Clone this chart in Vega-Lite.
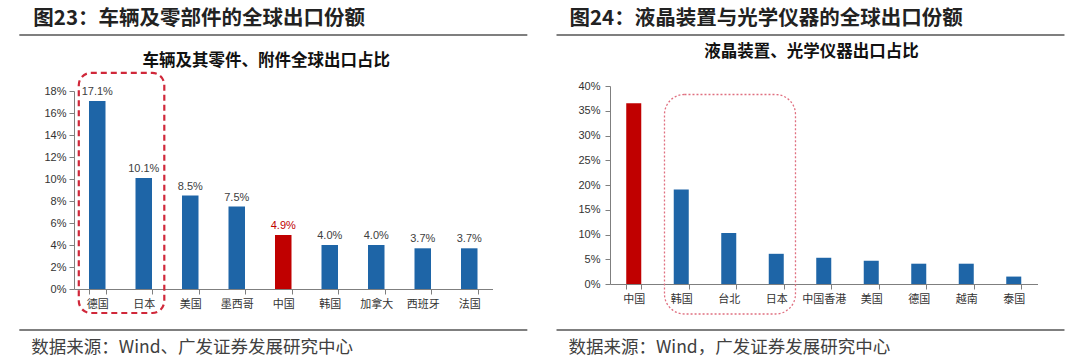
{
  "$schema": "https://vega.github.io/schema/vega-lite/v6.json",
  "background": "white",
  "padding": {"left": 18, "top": 8, "right": 0, "bottom": 0},
  "spacing": 26,
  "config": {
    "view": {"stroke": null},
    "axis": {
      "domainColor": "#7f7f7f",
      "tickColor": "#7f7f7f",
      "labelColor": "#333333",
      "labelFontSize": 11,
      "tickSize": 5,
      "grid": false,
      "title": null
    },
    "text": {"font": "Noto Sans CJK SC"}
  },
  "hconcat": [
    {
      "width": 418.5,
      "height": 203,
      "resolve": {"scale": {"x": "independent"}, "axis": {"y": "independent"}},
      "layer": [
        {
          "data": {"values": [
            {"country": "德国", "share": 0.171},
            {"country": "日本", "share": 0.101},
            {"country": "美国", "share": 0.085},
            {"country": "墨西哥", "share": 0.075},
            {"country": "中国", "share": 0.049},
            {"country": "韩国", "share": 0.040},
            {"country": "加拿大", "share": 0.040},
            {"country": "西班牙", "share": 0.037},
            {"country": "法国", "share": 0.037}
          ]},
          "encoding": {
            "x": {"field": "country", "type": "nominal", "sort": null,
              "scale": {"paddingInner": 0.645, "paddingOuter": 0.3225},
              "axis": {"labelAngle": 0, "tickBand": "extent", "labelFont": "Noto Sans CJK SC", "labelPadding": 4, "labelFontSize": 11}},
            "y": {"field": "share", "type": "quantitative",
              "scale": {"domain": [0, 0.18], "range": [203, 5], "nice": false},
              "axis": {"values": [0, 0.02, 0.04, 0.06, 0.08, 0.10, 0.12, 0.14, 0.16, 0.18], "format": ".0%", "labelFont": "Liberation Sans", "labelPadding": 3}}
          },
          "layer": [
            {"mark": {"type": "bar"},
             "encoding": {"color": {"condition": {"test": "datum.country === '中国'", "value": "#C00000"}, "value": "#1E65A7"}}},
            {"mark": {"type": "text", "baseline": "bottom", "dy": -4, "font": "Liberation Sans", "fontSize": 11},
             "encoding": {
               "text": {"field": "share", "type": "quantitative", "format": ".1%"},
               "color": {"condition": {"test": "datum.country === '中国'", "value": "#C00000"}, "value": "#404040"}
             }}
          ]
        },
        {
          "data": {"values": [{}]},
          "layer": [
            {"mark": {"type": "text", "align": "left", "baseline": "middle", "fontSize": 20.5, "fontWeight": "bold", "color": "#222222", "text": "图23：车辆及零部件的全球出口份额"},
             "encoding": {
               "x": {"datum": -0.875, "type": "quantitative", "scale": {"domain": [0, 9], "nice": false, "zero": false}, "axis": null},
               "y": {"datum": 0.2455, "type": "quantitative", "scale": {"domain": [0, 0.18], "range": [203, 5], "nice": false}, "axis": null}}},
            {"mark": {"type": "rule", "color": "#7f7f7f", "strokeWidth": 2},
             "encoding": {
               "x": {"datum": -1.176, "type": "quantitative", "scale": {"domain": [0, 9], "nice": false, "zero": false}, "axis": null},
               "x2": {"datum": 9.749},
               "y": {"datum": 0.2309, "type": "quantitative", "scale": {"domain": [0, 0.18], "range": [203, 5], "nice": false}, "axis": null}}},
            {"mark": {"type": "text", "align": "center", "baseline": "middle", "fontSize": 16.5, "fontWeight": "bold", "color": "#111111", "text": "车辆及其零件、附件全球出口占比"},
             "encoding": {
               "x": {"datum": 4.135, "type": "quantitative", "scale": {"domain": [0, 9], "nice": false, "zero": false}, "axis": null},
               "y": {"datum": 0.2073, "type": "quantitative", "scale": {"domain": [0, 0.18], "range": [203, 5], "nice": false}, "axis": null}}},
            {"mark": {"type": "rect", "filled": false, "color": "#D0283A", "strokeWidth": 2.2, "strokeDash": [6, 4], "cornerRadius": 12},
             "encoding": {
               "x": {"datum": 0.103, "type": "quantitative", "scale": {"domain": [0, 9], "nice": false, "zero": false}, "axis": null},
               "x2": {"datum": 1.942},
               "y": {"datum": 0.1964, "type": "quantitative", "scale": {"domain": [0, 0.18], "range": [203, 5], "nice": false}, "axis": null},
               "y2": {"datum": -0.0218}}},
            {"mark": {"type": "rule", "color": "#7f7f7f", "strokeWidth": 2},
             "encoding": {
               "x": {"datum": -1.176, "type": "quantitative", "scale": {"domain": [0, 9], "nice": false, "zero": false}, "axis": null},
               "x2": {"datum": 9.749},
               "y": {"datum": -0.0373, "type": "quantitative", "scale": {"domain": [0, 0.18], "range": [203, 5], "nice": false}, "axis": null}}},
            {"mark": {"type": "text", "align": "left", "baseline": "middle", "fontSize": 17.5, "color": "#404040", "text": "数据来源：Wind、广发证券发展研究中心"},
             "encoding": {
               "x": {"datum": -0.918, "type": "quantitative", "scale": {"domain": [0, 9], "nice": false, "zero": false}, "axis": null},
               "y": {"datum": -0.0536, "type": "quantitative", "scale": {"domain": [0, 0.18], "range": [203, 5], "nice": false}, "axis": null}}}
          ]
        }
      ]
    },
    {
      "width": 427.5,
      "height": 198,
      "resolve": {"scale": {"x": "independent"}, "axis": {"y": "independent"}},
      "layer": [
        {
          "data": {"values": [
            {"country": "中国", "share": 0.365},
            {"country": "韩国", "share": 0.191},
            {"country": "台北", "share": 0.103},
            {"country": "日本", "share": 0.061},
            {"country": "中国香港", "share": 0.053},
            {"country": "美国", "share": 0.047},
            {"country": "德国", "share": 0.041},
            {"country": "越南", "share": 0.041},
            {"country": "泰国", "share": 0.015}
          ]},
          "encoding": {
            "x": {"field": "country", "type": "nominal", "sort": null,
              "scale": {"paddingInner": 0.684, "paddingOuter": 0.342},
              "axis": {"labelAngle": 0, "tickBand": "extent", "labelFont": "Noto Sans CJK SC", "labelPadding": 4, "labelFontSize": 11}},
            "y": {"field": "share", "type": "quantitative",
              "scale": {"domain": [0, 0.4], "nice": false},
              "axis": {"values": [0, 0.05, 0.10, 0.15, 0.20, 0.25, 0.30, 0.35, 0.40], "format": ".0%", "labelFont": "Liberation Sans", "labelPadding": 5}}
          },
          "layer": [
            {"mark": {"type": "bar"},
             "encoding": {"color": {"condition": {"test": "datum.country === '中国'", "value": "#C00000"}, "value": "#1E65A7"}}}
          ]
        },
        {
          "data": {"values": [{}]},
          "layer": [
            {"mark": {"type": "text", "align": "left", "baseline": "middle", "fontSize": 20.5, "fontWeight": "bold", "color": "#222222", "text": "图24：液晶装置与光学仪器的全球出口份额"},
             "encoding": {
               "x": {"datum": -0.853, "type": "quantitative", "scale": {"domain": [0, 9], "nice": false, "zero": false}, "axis": null},
               "y": {"datum": 0.5354, "type": "quantitative", "scale": {"domain": [0, 0.4], "nice": false}, "axis": null}}},
            {"mark": {"type": "rule", "color": "#7f7f7f", "strokeWidth": 2},
             "encoding": {
               "x": {"datum": -1.126, "type": "quantitative", "scale": {"domain": [0, 9], "nice": false, "zero": false}, "axis": null},
               "x2": {"datum": 9.568},
               "y": {"datum": 0.503, "type": "quantitative", "scale": {"domain": [0, 0.4], "nice": false}, "axis": null}}},
            {"mark": {"type": "text", "align": "center", "baseline": "middle", "fontSize": 16.5, "fontWeight": "bold", "color": "#111111", "text": "液晶装置、光学仪器出口占比"},
             "encoding": {
               "x": {"datum": 4.242, "type": "quantitative", "scale": {"domain": [0, 9], "nice": false, "zero": false}, "axis": null},
               "y": {"datum": 0.4687, "type": "quantitative", "scale": {"domain": [0, 0.4], "nice": false}, "axis": null}}},
            {"mark": {"type": "rect", "filled": false, "color": "#E07080", "strokeWidth": 1.3, "strokeDash": [2, 2], "cornerRadius": 20},
             "encoding": {
               "x": {"datum": 1.147, "type": "quantitative", "scale": {"domain": [0, 9], "nice": false, "zero": false}, "axis": null},
               "x2": {"datum": 3.905},
               "y": {"datum": 0.3828, "type": "quantitative", "scale": {"domain": [0, 0.4], "nice": false}, "axis": null},
               "y2": {"datum": -0.0606}}},
            {"mark": {"type": "rule", "color": "#7f7f7f", "strokeWidth": 2},
             "encoding": {
               "x": {"datum": -1.126, "type": "quantitative", "scale": {"domain": [0, 9], "nice": false, "zero": false}, "axis": null},
               "x2": {"datum": 9.568},
               "y": {"datum": -0.0929, "type": "quantitative", "scale": {"domain": [0, 0.4], "nice": false}, "axis": null}}},
            {"mark": {"type": "text", "align": "left", "baseline": "middle", "fontSize": 17.5, "color": "#404040", "text": "数据来源：Wind，广发证券发展研究中心"},
             "encoding": {
               "x": {"datum": -0.874, "type": "quantitative", "scale": {"domain": [0, 9], "nice": false, "zero": false}, "axis": null},
               "y": {"datum": -0.1293, "type": "quantitative", "scale": {"domain": [0, 0.4], "nice": false}, "axis": null}}}
          ]
        }
      ]
    }
  ]
}
